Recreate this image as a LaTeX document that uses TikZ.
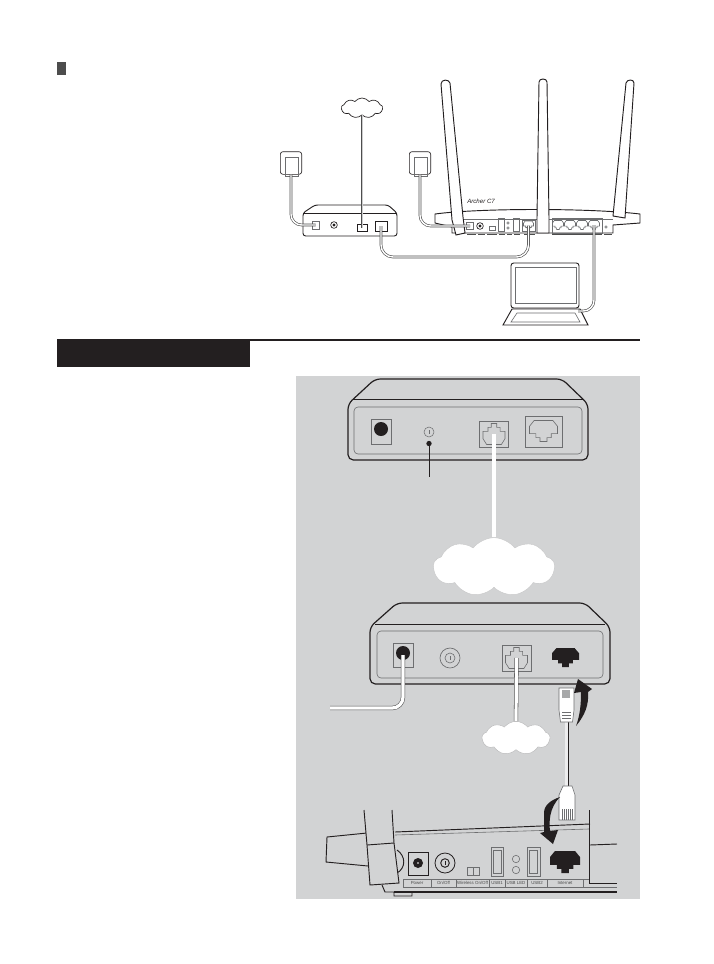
\documentclass[tikz,border=0pt]{standalone}
\usepackage{fontspec}
\setmainfont{Liberation Sans}
\usetikzlibrary{shapes.symbols}
\definecolor{InkBlack}{HTML}{231F20}
\definecolor{PanelGray}{HTML}{D2D3D4}
\definecolor{PortGray}{HTML}{6D6E70}
\definecolor{MarkerGray}{HTML}{4D4D4D}
\newcommand{\rjoutline}{(-.67,-1) -- (.67,-1) -- (1,-.45) -- (1,.25) -- (.55,.25) -- (.55,.63) -- (.25,.63) -- (.25,1) -- (-.25,1) -- (-.25,.63) -- (-.55,.63) -- (-.55,.25) -- (-1,.25) -- (-1,-.45) -- cycle}
\begin{document}
\begin{tikzpicture}[
    x=0.75pt, y=-0.75pt,
    ink/.style={draw=InkBlack, line width=0.7pt},
    thinline/.style={draw=PortGray, line width=0.45pt},
    darkcable/.style={draw=MarkerGray, line width=0.45pt, double=white, double distance=1.1pt},
    phonewire/.style={draw=MarkerGray, line width=0.5pt, double=PortGray!35, double distance=0.6pt},
    whitecable/.style={draw=MarkerGray, line width=0.4pt, double=white, double distance=2.4pt},
    barecable/.style={draw=white, line width=3.6pt},
    portbox/.style={rectangle, draw=PortGray, line width=0.5pt, inner sep=0pt},
    netcloud/.style={cloud, cloud puffs=9, cloud puff arc=105, aspect=2, fill=white, inner sep=0pt},
    tinylabel/.style={font=\fontsize{3.3}{4}\selectfont, text=MarkerGray, inner sep=0pt},
    pics/rjglyph/.style={code={\draw[thinline] \rjoutline;}},
    pics/rjsolid/.style={code={\fill[InkBlack] \rjoutline;}}
]
  \useasboundingbox (0,0) rectangle (714,964);

  \fill[MarkerGray] (57,62) rectangle (66,75);
  \fill[InkBlack] (57,339) rectangle (250,367);
  \fill[InkBlack] (57,339) rectangle (640,341);
  \fill[PanelGray] (296,376) rectangle (640,899);

  % top overview
  \node[netcloud, draw=InkBlack, line width=0.5pt, minimum width=31pt, minimum height=15pt] (topcloud) at (362,108) {};
  \node[rectangle, rounded corners=2pt, draw=InkBlack, line width=0.5pt, minimum width=16pt, minimum height=17pt, inner sep=0pt] (plugA) at (291,163) {};
  \node[rectangle, rounded corners=2pt, draw=InkBlack, line width=0.5pt, minimum width=16pt, minimum height=17pt, inner sep=0pt] (plugB) at (420,163) {};
  \draw[thinline] (285,157) rectangle (298,176);
  \draw[thinline] (414,157) rectangle (427,176);

  \draw[ink, fill=white, rounded corners=2pt] (303,213) -- (315,205) -- (388,205) -- (397,213) -- (397,236) -- (303,236) -- cycle;
  \draw[ink] (304,213) -- (396,213);
  \node[portbox, minimum width=5.3pt, minimum height=6pt] (smallpower) at (315.5,225) {};
  \node[circle, draw=InkBlack, line width=0.5pt, minimum size=5pt, inner sep=0pt] (smallknob) at (334,225) {};
  \fill[InkBlack] (smallknob) circle (1.6);
  \node[portbox, draw=InkBlack, line width=0.7pt, minimum width=7.5pt, minimum height=5.3pt] (smallphone) at (362,227.5) {};
  \node[portbox, draw=InkBlack, line width=0.7pt, minimum width=9pt, minimum height=7.5pt] (smalllan) at (381,226) {};

  \draw[ink, fill=white] (435,214) .. controls (480,208) and (590,208) .. (640,214) -- (640,223) -- (613,225) -- (613,233) -- (452,233) -- (452,227) -- (435,223) -- cycle;
  \draw[thinline] (453,219) -- (613,219);
  \node[anchor=west, font=\itshape\fontsize{4.6}{5}\selectfont, text=InkBlack, inner sep=0pt] (modelname) at (467,201) {Archer C7};
  \node[portbox, minimum width=4.8pt, minimum height=5.4pt] (routerpower) at (470,226) {};
  \node[circle, draw=InkBlack, line width=0.5pt, minimum size=5pt, inner sep=0pt] (routerknob) at (480,226) {};
  \fill[InkBlack] (routerknob) circle (1.6);
  \node[portbox, minimum width=4.5pt, minimum height=3pt] (routerswitch) at (492,228) {};
  \node[portbox, minimum width=4.5pt, minimum height=10pt] (routerusbA) at (501,224.5) {};
  \node[portbox, minimum width=4.5pt, minimum height=10pt] (routerusbB) at (516,224.5) {};
  \draw[thinline] (508,223) circle (1.2) (508,228) circle (1.2);
  \node[portbox, minimum width=10pt, minimum height=8pt] (routerwan) at (528.5,225.5) {};
  \pic[xscale=5, yscale=4] at (528.5,225) {rjglyph};
  \node[portbox, minimum width=37.5pt, minimum height=11pt] (lanbox) at (577,225.5) {};
  \foreach \x/\n in {558/1,570/2,582/3,594/4}{
    \coordinate (lan\n) at (\x,225);
    \pic[xscale=5.5, yscale=4.5] at (lan\n) {rjglyph};
  }
  \draw[thinline] (606,227) circle (1.3);
  \foreach \xa/\xb in {467/476,478/485,487/497,499/505,507/512,514/520,524/535,552/602,604/612}
    \draw[MarkerGray, line width=0.9pt] (\xa,234.5) -- (\xb,234.5);
  \draw[ink, fill=white] (441,84) .. controls (441,79) and (449,79) .. (450,83) -- (463,217) -- (465,233) -- (456,235) -- (452,220) -- cycle;
  \draw[ink, fill=white] (539,82) .. controls (539,78) and (547,78) .. (547,82) -- (549,218) -- (549,233) -- (537,233) -- (537,218) -- cycle;
  \draw[ink, fill=white] (626,83) .. controls (627,79) and (634,79) .. (634,83) -- (625,218) -- (613,216) -- cycle;

  \draw[ink, fill=white, rounded corners=2pt] (511,263) rectangle (579,308);
  \draw[thinline, fill=white] (515,267) rectangle (576,303);
  \draw[ink, fill=white] (512,309) -- (580,309) -- (588,325) -- (503,325) -- cycle;
  \draw[thinline] (517,313) -- (575,313) -- (580,322) -- (511,322) -- cycle;
  \coordinate (laptopport) at (578,311);

  \draw[phonewire] (topcloud.south) -- (smallphone.center);
  \draw[darkcable, rounded corners=8pt] (plugA.south) |- (smallpower.center);
  \draw[darkcable, rounded corners=8pt] (plugB.south) |- (routerpower.center);
  \coordinate (lanturn) at (450,257);
  \draw[darkcable, rounded corners=9pt] (smalllan.center) |- (lanturn) -| (routerwan.center);
  \draw[darkcable, rounded corners=8pt] (lan4) |- (laptopport);

  % first modem
  \draw[ink, fill=PanelGray, line width=0.9pt, rounded corners=4pt] (348,404) -- (375,379) -- (562,379) -- (588,404) -- (588,460) -- (348,460) -- cycle;
  \draw[ink] (353,399.5) -- (583,399.5);
  \draw[thinline, rounded corners=3pt] (354,407) rectangle (582,454);
  \node[portbox, minimum width=15pt, minimum height=18.8pt] (firstpower) at (381,431.5) {};
  \fill[InkBlack] (381,429) circle (7);
  \node[circle, draw=PortGray, line width=0.4pt, minimum size=7.5pt, inner sep=0pt] (firstknob) at (429,432) {};
  \draw[thinline] (429,430) -- (429,434);
  \node[circle, fill=InkBlack, minimum size=4pt, inner sep=0pt] (firstdot) at (429,443.5) {};
  \coordinate (firstlead) at (429,477);
  \draw[ink] (firstdot) -- (firstlead);
  \node[portbox, minimum width=22pt, minimum height=19.5pt] (firstphone) at (494,434) {};
  \pic[xscale=11, yscale=-10.5] at (494,434) {rjglyph};
  \node[portbox, minimum width=27.5pt, minimum height=23pt] (firstlan) at (543.5,431.5) {};
  \pic[xscale=14, yscale=10.5] at (543.5,431) {rjglyph};
  \node[netcloud, minimum width=91pt, minimum height=44pt, draw=PortGray!40, line width=0.3pt] (bigcloud) at (494,567) {};
  \draw[barecable] (firstphone.center) -- (bigcloud.north);

  % second modem
  \draw[ink, fill=PanelGray, line width=0.9pt, rounded corners=4pt] (370,627) -- (397,603) -- (585,603) -- (610,627) -- (610,684) -- (370,684) -- cycle;
  \draw[ink] (375,624) -- (605,624);
  \draw[thinline, rounded corners=3pt] (377,631) rectangle (603,678);
  \node[portbox, minimum width=15pt, minimum height=18pt] (secondpower) at (403,655) {};
  \fill[InkBlack] (403,653) circle (7);
  \node[circle, draw=PortGray, line width=0.5pt, minimum size=15pt, inner sep=0pt] (secondknob) at (450,658) {};
  \draw[thinline] (secondknob) circle (5);
  \draw[thinline] (450,656) -- (450,660);
  \node[portbox, minimum width=22pt, minimum height=19.5pt] (secondphone) at (516.5,658) {};
  \pic[xscale=11, yscale=-10.5] at (516.5,658) {rjglyph};
  \coordinate (secondlan) at (565.5,657.5);
  \pic[xscale=13.5, yscale=9.5] at (secondlan) {rjsolid};
  \node[netcloud, minimum width=51pt, minimum height=25pt, draw=PortGray!50, line width=0.3pt] (smallcloud) at (516,738) {};
  \coordinate (mainsend) at (330,708);
  \draw[whitecable, rounded corners=8pt] (secondpower.center) |- (mainsend);
  \draw[whitecable] (secondphone.center) -- (smallcloud.north);

  % router rear
  \draw[ink] (395,832) -- (590,824);
  \draw[thinline] (395,835) -- (589,829);
  \draw[ink] (589,810) -- (589,883);
  \draw[ink] (590,845) -- (617,844);
  \draw[ink] (589,883) -- (617,883);
  \draw[ink, line width=1pt] (394,892) -- (617,892);
  \draw[ink] (382,885) -- (385,892) -- (394,892) -- (394,896) -- (412,896) -- (412,892);
  \draw[ink] (397,850) .. controls (406,856) and (406,868) .. (397,873);
  \draw[ink, fill=PanelGray] (367,833) -- (327,837) -- (326,862) -- (368,866);
  \draw[ink, fill=PanelGray] (364,810) -- (367,845) -- (370,885) -- (399,883) -- (394,843) -- (392,810);
  \draw[ink] (367,845) -- (394,843);
  \node[portbox, draw=InkBlack, line width=0.7pt, minimum width=15pt, minimum height=17pt] (rearpower) at (418,864) {};
  \fill[InkBlack] (418,863) circle (5);
  \fill[white] (418,863) circle (0.9);
  \node[circle, draw=InkBlack, line width=0.6pt, minimum size=15pt, inner sep=0pt] (rearknob) at (445,863) {};
  \draw[ink] (rearknob) circle (4.3);
  \draw[ink] (445,861) -- (445,865);
  \node[portbox, minimum width=9pt, minimum height=6pt] (rearswitch) at (473,871) {};
  \draw[thinline] (473,867) -- (473,875);
  \node[portbox, minimum width=9pt, minimum height=21.8pt] (rearusbA) at (497,861.5) {};
  \draw[thinline] (493,850) rectangle (501,873);
  \draw[thinline] (516,859) circle (3.7) (516,870) circle (3.7);
  \node[portbox, minimum width=9.5pt, minimum height=21.8pt] (rearusbB) at (533.5,861.5) {};
  \draw[thinline] (529.5,850) rectangle (537.5,873);
  \coordinate (rearwan) at (565,862);
  \pic[xscale=15, yscale=11] at (rearwan) {rjsolid};
  \draw[thinline] (403,879) -- (589,879) (403,887) -- (617,887);
  \foreach \x in {403,431,456,489,505,527,547,583}
    \draw[thinline] (\x,879) -- (\x,887);
  \node[tinylabel] (powerlabel) at (417,883) {Power};
  \node[tinylabel] (onofflabel) at (443.5,883) {On/Off};
  \node[tinylabel] (wirelesslabel) at (472.5,883) {Wireless On/Off};
  \node[tinylabel] (usbonelabel) at (497,883) {USB1};
  \node[tinylabel] (usbledlabel) at (516,883) {USB LED};
  \node[tinylabel] (usbtwolabel) at (537,883) {USB2};
  \node[tinylabel] (internetlabel) at (565,883) {Internet};

  % ethernet lead between the plugs
  \coordinate (leadtop) at (566.5,722);
  \coordinate (leadbottom) at (566.5,787);
  \draw[draw=InkBlack, line width=0.55pt, double=PanelGray!40!white, double distance=1.9pt] (leadtop) -- (leadbottom);
  \draw[thinline, fill=white] (559,688) -- (574,688) -- (574,710) -- (572.5,722) -- (560.5,722) -- (559,710) -- cycle;
  \fill[PortGray!60] (562,690) rectangle (570,698);
  \foreach \y in {712,715,718}
    \draw[thinline] (562,\y) -- (571,\y);
  \draw[thinline, fill=white] (563,786) -- (572,786) -- (575,795) -- (575,820) -- (559,820) -- (559,795) -- cycle;
  \foreach \x in {562,564,566,568,570,572}
    \draw[thinline] (\x,809) -- (\x,820);
  \fill[InkBlack] (576,726) .. controls (585,715) and (589,705) .. (588,692) -- (592,689) -- (578,679) -- (574,693) -- (581,692) .. controls (581,705) and (580,715) .. cycle;
  \fill[InkBlack] (560,797) .. controls (551,800) and (544,805) .. (544,813) .. controls (544,820) and (544,826) .. (544,832) -- (540,833) -- (553,844) -- (558,830) -- (550,831) .. controls (549,822) and (549,808) .. cycle;
\end{tikzpicture}
\end{document}
